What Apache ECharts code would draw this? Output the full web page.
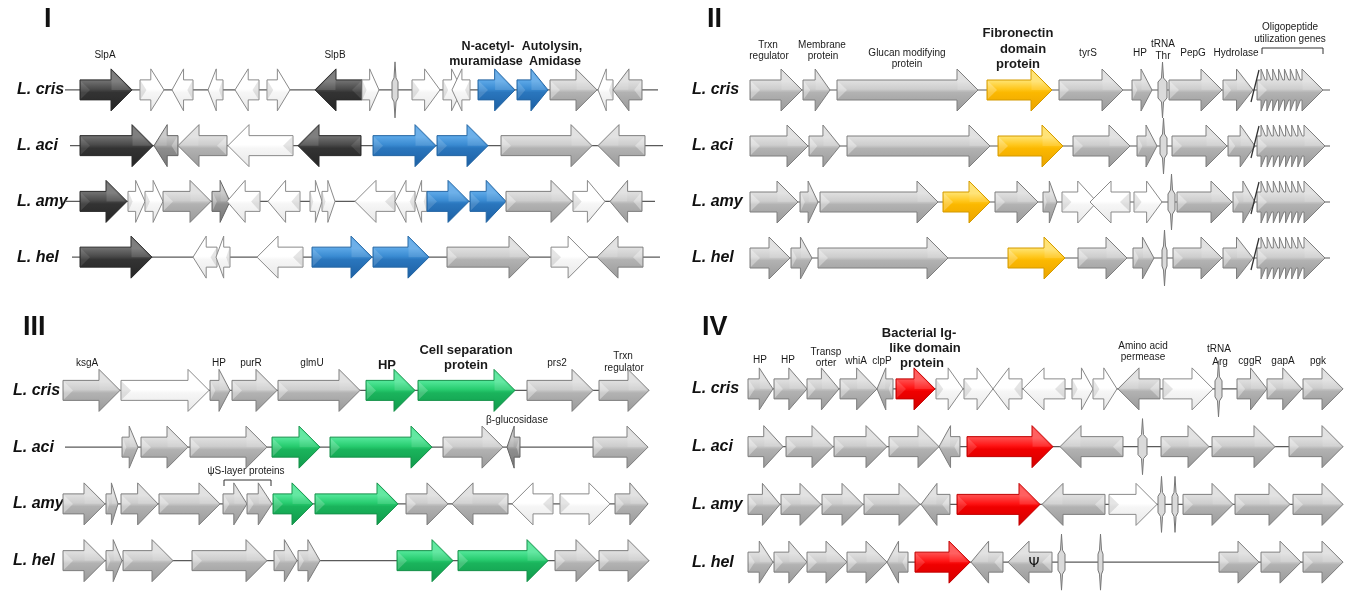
<!DOCTYPE html>
<html><head><meta charset="utf-8">
<script src="https://cdn.jsdelivr.net/npm/echarts@6/dist/echarts.min.js"></script>
<style>html,body{margin:0;padding:0;background:#fff}#c{width:1354px;height:591px}</style>
</head><body><div id="c"></div>
<script>
// ---------------- DATA (gene start, gene end, strand, class) ----------------
const species = ['L. cris', 'L. aci', 'L. amy', 'L. hel'];
const panelNames = ['I', 'II', 'III', 'IV'];

// Panel I
const p1Cris = [[20,72,1,'dark'],[80,104,1,'white'],[112,133,-1,'white'],[148,163,-1,'white'],[175,199,-1,'white'],[207,230,1,'white'],[255,302,-1,'dark'],[302,319,1,'white'],[332,338,0,'trna'],[352,380,1,'white'],[383,402,1,'white'],[392,410,-1,'white'],[418,455,1,'blue'],[457,488,1,'blue'],[490,537,1,'gray'],[538,553,-1,'white'],[553,582,-1,'gray']];
const p1Aci = [[20,93,1,'dark'],[94,118,-1,'dgray'],[118,167,-1,'gray'],[168,233,-1,'white'],[238,301,-1,'dark'],[313,376,1,'blue'],[377,428,1,'blue'],[441,532,1,'gray'],[538,585,-1,'gray']];
const p1Amy = [[20,67,1,'dark'],[68,85,1,'white'],[85,103,1,'white'],[103,151,1,'gray'],[152,170,1,'dgray'],[167,200,-1,'white'],[208,240,-1,'white'],[250,262,1,'white'],[262,275,1,'white'],[295,335,-1,'white'],[335,355,-1,'white'],[355,367,-1,'white'],[367,409,1,'blue'],[410,446,1,'blue'],[446,512,1,'gray'],[513,545,1,'white'],[550,582,-1,'gray']];
const p1Hel = [[20,92,1,'dark'],[133,157,-1,'white'],[156,170,-1,'white'],[197,243,-1,'white'],[252,312,1,'blue'],[313,369,1,'blue'],[387,470,1,'gray'],[491,529,1,'white'],[537,583,-1,'gray']];
const p1Lines = [[5,598],[10,603],[5,595],[12,600]];

// Panel II
const p2Cris = [[10,62,1,'gray'],[63,90,1,'gray'],[97,238,1,'gray'],[247,312,1,'yellow'],[319,383,1,'gray'],[392,412,1,'gray'],[418,427,0,'trna'],[429,482,1,'gray'],[483,513,1,'gray'],[517,583,1,'oligo']];
const p2Aci = [[10,68,1,'gray'],[69,100,1,'gray'],[107,250,1,'gray'],[258,323,1,'yellow'],[333,390,1,'gray'],[397,417,1,'gray'],[420,427,0,'trna'],[432,487,1,'gray'],[488,515,1,'gray'],[517,585,1,'oligo']];
const p2Amy = [[10,58,1,'gray'],[60,78,1,'gray'],[80,198,1,'gray'],[203,250,1,'yellow'],[255,298,1,'gray'],[303,317,1,'gray'],[322,357,1,'white'],[350,390,-1,'white'],[394,422,1,'white'],[428,435,0,'trna'],[437,492,1,'gray'],[493,515,1,'gray'],[517,585,1,'oligo']];
const p2Hel = [[10,50,1,'gray'],[51,72,1,'gray'],[78,208,1,'gray'],[268,325,1,'yellow'],[338,387,1,'gray'],[393,414,1,'gray'],[422,427,0,'trna'],[433,482,1,'gray'],[483,513,1,'gray'],[517,585,1,'oligo']];
const p2Lines = [[10,590],[10,590],[10,590],[10,590]];

// Panel III
const p3Cris = [[3,60,1,'gray'],[61,149,1,'white'],[150,170,1,'gray'],[172,217,1,'gray'],[218,300,1,'gray'],[306,355,1,'green'],[358,455,1,'green'],[467,533,1,'gray'],[539,589,1,'gray']];
const p3Aci = [[62,78,1,'gray'],[81,128,1,'gray'],[130,207,1,'gray'],[212,260,1,'green'],[270,372,1,'green'],[383,443,1,'gray'],[447,460,-1,'dgray'],[533,588,1,'gray']];
const p3Amy = [[3,45,1,'gray'],[46,58,1,'gray'],[61,98,1,'gray'],[99,160,1,'gray'],[163,187,1,'gray'],[187,212,1,'gray'],[213,253,1,'green'],[255,338,1,'green'],[346,388,1,'gray'],[392,448,-1,'gray'],[452,493,-1,'white'],[500,550,1,'white'],[555,588,1,'gray']];
const p3Hel = [[3,45,1,'gray'],[46,62,1,'gray'],[63,113,1,'gray'],[132,207,1,'gray'],[214,237,1,'gray'],[238,260,1,'gray'],[337,393,1,'green'],[398,488,1,'green'],[495,537,1,'gray'],[539,589,1,'gray']];
const p3Lines = [[3,589],[5,588],[3,588],[3,589]];

// Panel IV
const p4Cris = [[8,33,1,'gray'],[34,67,1,'gray'],[67,99,1,'gray'],[100,137,1,'gray'],[137,153,-1,'gray'],[156,195,1,'red'],[196,223,1,'white'],[224,253,1,'white'],[253,282,-1,'white'],[283,325,-1,'white'],[332,353,1,'white'],[353,377,1,'white'],[378,420,-1,'gray'],[423,473,1,'white'],[475,482,0,'trna'],[497,527,1,'gray'],[527,562,1,'gray'],[563,603,1,'gray']];
const p4Aci = [[8,43,1,'gray'],[46,93,1,'gray'],[94,147,1,'gray'],[149,199,1,'gray'],[199,220,-1,'gray'],[227,313,1,'red'],[320,383,-1,'gray'],[398,407,0,'trna'],[421,469,1,'gray'],[472,535,1,'gray'],[549,603,1,'gray']];
const p4Amy = [[8,40,1,'gray'],[41,81,1,'gray'],[82,123,1,'gray'],[124,180,1,'gray'],[181,210,-1,'gray'],[217,300,1,'red'],[302,365,-1,'gray'],[369,417,1,'white'],[418,425,0,'trna'],[432,438,0,'trna'],[443,493,1,'gray'],[495,550,1,'gray'],[553,603,1,'gray']];
const p4Hel = [[8,33,1,'gray'],[34,67,1,'gray'],[67,107,1,'gray'],[107,147,1,'gray'],[147,168,-1,'gray'],[175,230,1,'red'],[231,263,-1,'gray'],[268,312,-1,'psi'],[318,325,0,'trna'],[358,363,0,'trna'],[479,519,1,'gray'],[521,561,1,'gray'],[563,603,1,'gray']];
const p4Lines = [[8,603],[8,603],[8,603],[8,603]];

// ---------------- LAYOUT / STYLE ----------------
const PANELS = [
  { rows: [p1Cris, p1Aci, p1Amy, p1Hel], lines: p1Lines, left: 60, top: 62, width: 610, height: 223, xmax: 610, labelMargin: 43 },
  { rows: [p2Cris, p2Aci, p2Amy, p2Hel], lines: p2Lines, left: 740, top: 62, width: 600, height: 224, xmax: 600, labelMargin: 48 },
  { rows: [p3Cris, p3Aci, p3Amy, p3Hel], lines: p3Lines, left: 60, top: 362, width: 600, height: 227, xmax: 600, labelMargin: 47 },
  { rows: [p4Cris, p4Aci, p4Amy, p4Hel], lines: p4Lines, left: 740, top: 360, width: 610, height: 232, xmax: 610, labelMargin: 48 }
];

const PAL = {
  dark:   { c: ['#6e6e6e', '#4a4a4a', '#333333', '#262626'], s: '#2a2a2a', bev: 'rgba(255,255,255,0.10)' },
  white:  { c: ['#ffffff', '#ffffff', '#f6f6f6', '#e8e8e8'], s: '#8a8a8a', bev: 'rgba(0,0,0,0.10)' },
  gray:   { c: ['#dedede', '#cdcdcd', '#b2b2b2', '#999999'], s: '#7e7e7e', bev: 'rgba(255,255,255,0.35)' },
  dgray:  { c: ['#c4c4c4', '#aaaaaa', '#8e8e8e', '#777777'], s: '#666666', bev: 'rgba(255,255,255,0.3)' },
  blue:   { c: ['#5aa6e6', '#3a8bd2', '#2a76bd', '#1c5fa3'], s: '#2566a3', bev: 'rgba(255,255,255,0.15)' },
  yellow: { c: ['#ffe066', '#ffc61a', '#fbb800', '#eaa300'], s: '#d39a00', bev: 'rgba(255,255,255,0.25)' },
  green:  { c: ['#4fe596', '#27cc6f', '#1ab45c', '#10994b'], s: '#16914a', bev: 'rgba(255,255,255,0.2)' },
  red:    { c: ['#ff4a4a', '#ff1414', '#f00000', '#d40000'], s: '#c00000', bev: 'rgba(255,255,255,0.15)' }
};

const SPECIES_FONT = 'italic bold 16px "Liberation Sans", Arial, sans-serif';
const S = '10px "Liberation Sans", Arial, sans-serif';
const B = 'bold 12.5px "Liberation Sans", Arial, sans-serif';
const B2 = 'bold 13px "Liberation Sans", Arial, sans-serif';
const NUM = 'bold 27px "Liberation Sans", Arial, sans-serif';

const labels = [
  [105,55,'SlpA',S],[335,55,'SlpB',S],
  [488,47,'N-acetyl-',B],[486,62,'muramidase',B],[552,47,'Autolysin,',B],[555,62,'Amidase',B],
  [768,45,'Trxn',S],[769,56,'regulator',S],[822,45,'Membrane',S],[823,56,'protein',S],[907,53,'Glucan modifying',S],[907,64,'protein',S],
  [1018,33,'Fibronectin',B2],[1023,49,'domain',B2],[1018,64,'protein',B2],
  [1088,53,'tyrS',S],[1140,53,'HP',S],[1163,44,'tRNA',S],[1163,56,'Thr',S],[1193,53,'PepG',S],[1236,53,'Hydrolase',S],
  [1290,27,'Oligopeptide',S],[1290,39,'utilization genes',S],
  [87,363,'ksgA',S],[219,363,'HP',S],[251,363,'purR',S],[312,363,'glmU',S],
  [387,365,'HP',B2],[466,350,'Cell separation',B2],[466,365,'protein',B2],
  [557,363,'prs2',S],[623,356,'Trxn',S],[624,368,'regulator',S],
  [517,420,'β-glucosidase',S],[246,471,'ψS-layer proteins',S],
  [760,360,'HP',S],[788,360,'HP',S],[826,352,'Transp',S],[826,363,'orter',S],[856,361,'whiA',S],[882,361,'clpP',S],
  [919,333,'Bacterial Ig-',B2],[925,348,'like domain',B2],[922,363,'protein',B2],
  [1143,346,'Amino acid',S],[1143,357,'permease',S],[1219,349,'tRNA',S],[1220,362,'Arg',S],[1250,361,'cggR',S],[1283,361,'gapA',S],[1318,361,'pgk',S]
];
const numerals = [[44,20],[707,20],[23,328],[702,328]];

// ---------------- RENDERING ----------------
function grad(p) {
  return { type: 'linear', x: 0, y: 0, x2: 0, y2: 1, colorStops: [
    { offset: 0, color: p.c[0] }, { offset: 0.3, color: p.c[0] }, { offset: 0.48, color: p.c[1] },
    { offset: 0.56, color: p.c[2] }, { offset: 1, color: p.c[3] }] };
}

function makeGeneRender(list) {
  return function (params, api) {
    const d = list[params.dataIndex];
    const a = api.coord([d.s, d.row]), b = api.coord([d.e, d.row]);
    const y = a[1], x0 = a[0], x1 = b[0], w = x1 - x0;
    const BH = 10, HH = 21;
    const ch = [];
    if (d.type === 'trna') {
      const xm = (x0 + x1) / 2;
      ch.push({ type: 'polygon', shape: { points: [[x0, y - 8], [xm - 1, y - 12], [xm, y - 28], [xm + 1, y - 12], [x1, y - 8], [x1, y + 8], [xm + 1, y + 12], [xm, y + 28], [xm - 1, y + 12], [x0, y + 8]] },
        style: { fill: '#dadada', stroke: '#777', lineWidth: 1 } });
      return { type: 'group', children: ch };
    }
    const palKey = (d.type === 'oligo' || d.type === 'psi') ? 'gray' : d.type;
    const p = PAL[palKey];
    const head = Math.min(21, w * 0.55);
    const dir = d.dir;
    const X = u => dir > 0 ? x0 + u : x1 - u;
    let pts;
    if (d.type === 'oligo') {
      const n = 7, bodyEnd = w - head, step = (bodyEnd - 4) / n;
      pts = [[0, -BH]];
      for (let k = 0; k < n; k++) { const s = 4 + k * step; pts.push([s, -BH], [s, -HH], [s + step * 0.72, -BH]); }
      pts.push([bodyEnd, -BH], [bodyEnd, -HH], [w, 0], [bodyEnd, HH], [bodyEnd, BH]);
      for (let k = n - 1; k >= 0; k--) { const s = 4 + k * step; pts.push([s + step * 0.72, BH], [s, HH], [s, BH]); }
      pts.push([0, BH]);
    } else {
      pts = [[0, -BH], [w - head, -BH], [w - head, -HH], [w, 0], [w - head, HH], [w - head, BH], [0, BH]];
    }
    ch.push({ type: 'polygon', shape: { points: pts.map(q => [X(q[0]), y + q[1]]) },
      style: { fill: grad(p), stroke: p.s, lineWidth: 1 } });
    const c = Math.min(BH, (w - head) * 0.6, w * 0.35);
    if (c > 1) {
      ch.push({ type: 'polygon', shape: { points: [[X(0.8), y - BH + 1], [X(c), y], [X(0.8), y + BH - 1]] },
        style: { fill: p.bev }, silent: true });
    }
    if (w > 8) {
      const hx = w - head;
      ch.push({ type: 'polygon', shape: { points: [[X(hx + 0.5), y - HH + 2], [X(w - 1.5), y], [X(hx + 0.5), y]] },
        style: { fill: 'rgba(255,255,255,0.12)' }, silent: true });
    }
    if (d.type === 'oligo') {
      ch.push({ type: 'line', shape: { x1: x0 - 6, y1: y + 12, x2: x0 + 2, y2: y - 20 }, style: { stroke: '#333', lineWidth: 1.3 } });
    }
    if (d.type === 'psi') {
      ch.push({ type: 'text', x: (x0 + x1) / 2 + 4, y: y + 1, style: { text: 'Ψ', font: '14px "DejaVu Sans", sans-serif', fill: '#111', align: 'center', verticalAlign: 'middle' } });
    }
    return { type: 'group', children: ch };
  };
}

function makeLineRender(list) {
  return function (params, api) {
    const d = list[params.dataIndex];
    const a = api.coord([d[0], d[2]]), b = api.coord([d[1], d[2]]);
    return { type: 'line', shape: { x1: a[0], y1: a[1], x2: b[0], y2: b[1] }, style: { stroke: '#5a5a5a', lineWidth: 1.2 } };
  };
}

const grid = [], xAxis = [], yAxis = [], series = [];
PANELS.forEach((P, i) => {
  grid.push({ left: P.left, top: P.top, width: P.width, height: P.height, containLabel: false });
  xAxis.push({ type: 'value', gridIndex: i, min: 0, max: P.xmax, show: false });
  yAxis.push({ type: 'category', gridIndex: i, data: species, inverse: true,
    axisLine: { show: false }, axisTick: { show: false }, splitLine: { show: false },
    axisLabel: { show: true, align: 'left', margin: P.labelMargin, fontStyle: 'italic', fontWeight: 'bold', fontSize: 16, fontFamily: '"Liberation Sans", Arial, sans-serif', color: '#111' } });
  const lineList = P.lines.map((l, r) => [l[0], l[1], r]);
  series.push({ type: 'custom', xAxisIndex: i, yAxisIndex: i, z: 1, silent: true, clip: false,
    renderItem: makeLineRender(lineList), data: lineList.map(l => [l[0], l[2], l[1]]), encode: { x: [0, 2], y: 1 } });
  const genes = [];
  P.rows.forEach((row, r) => row.forEach(g => genes.push({ s: g[0], e: g[1], dir: g[2], type: g[3], row: r })));
  series.push({ type: 'custom', xAxisIndex: i, yAxisIndex: i, z: 2, silent: true, clip: false,
    renderItem: makeGeneRender(genes), data: genes.map(g => [g.s, g.row, g.e]), encode: { x: [0, 2], y: 1 } });
});

const graphic = [];
labels.forEach(l => graphic.push({ type: 'text', x: l[0], y: l[1], silent: true,
  style: { text: l[2], font: l[3], fill: '#1a1a1a', align: 'center', verticalAlign: 'middle' } }));
numerals.forEach((n, i) => graphic.push({ type: 'text', x: n[0], y: n[1], silent: true,
  style: { text: panelNames[i], font: NUM, fill: '#111', align: 'left', verticalAlign: 'middle' } }));
graphic.push({ type: 'polyline', silent: true, shape: { points: [[1262, 54], [1262, 48], [1323, 48], [1323, 54]] }, style: { stroke: '#333', lineWidth: 1, fill: null } });
graphic.push({ type: 'polyline', silent: true, shape: { points: [[224, 486], [224, 480], [271, 480], [271, 486]] }, style: { stroke: '#333', lineWidth: 1, fill: null } });

const chart = echarts.init(document.getElementById('c'), null, { renderer: 'canvas' });
chart.setOption({ animation: false, backgroundColor: '#ffffff', grid, xAxis, yAxis, series, graphic });
</script>
</body></html>
